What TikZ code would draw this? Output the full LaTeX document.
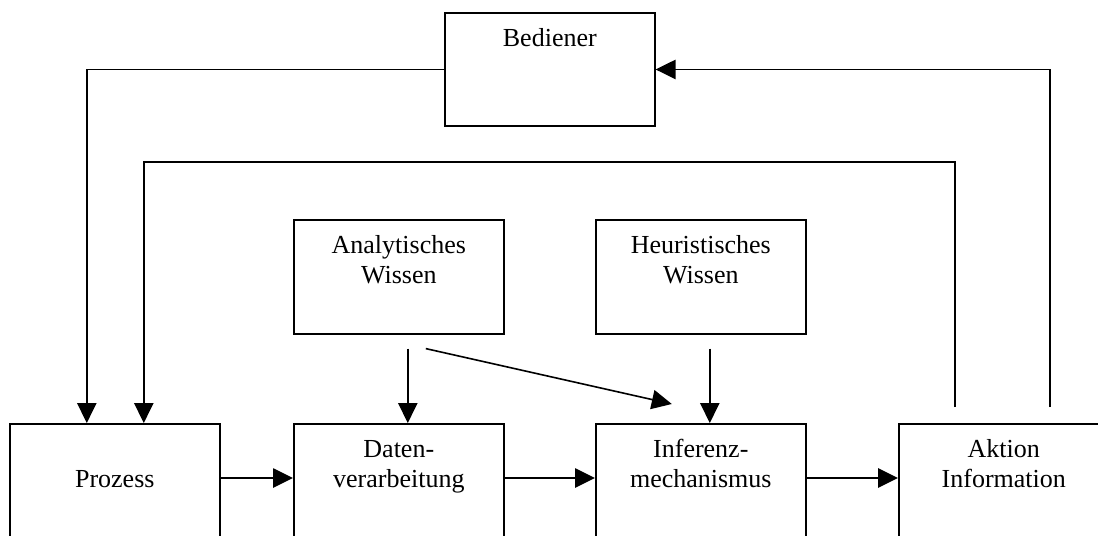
\documentclass[tikz,border=0pt]{standalone}
\usepackage{fontspec}
\setmainfont{Liberation Serif}
\usetikzlibrary{arrows.meta}

\tikzset{
  block/.style={draw, line width=1.2pt, anchor=north west, inner sep=0pt,
    minimum width=157.5pt, align=center,
    font=\fontsize{19.5}{22.5}\selectfont,
    text height=25.5pt, text depth=60pt},
  twoline/.style={text height=48pt, text depth=37.5pt},
  flow/.style={line width=1.2pt, -{Triangle[length=15pt,width=14.5pt]}},
}

\begin{document}
\begin{tikzpicture}[x=0.75pt,y=-0.75pt]
    \useasboundingbox (0,0) rectangle (1098,535);
    \clip (0,0) rectangle (1098,535);
    \node[block, text height=25pt] (bed) at (444,12) {Bediener};
    \node[block, twoline] (ana) at (293,219) {Analytisches\\Wissen};
    \node[block, twoline] (heu) at (595,219) {Heuristisches\\Wissen};
    \node[block, text height=48pt, text depth=100pt] (proz) at (9,423) {Prozess};
    \node[block, twoline, text depth=100pt] (dat) at (293,423) {Daten-\\verarbeitung};
    \node[block, twoline, text depth=100pt] (inf) at (595,423) {Inferenz-\\mechanismus};
    \node[block, twoline, text depth=100pt] (akt) at (898,423) {Aktion\\Information};
    \coordinate (akt1) at ([xshift=-36.75pt,yshift=12pt]akt.north);
    \coordinate (akt2) at ([xshift=34.5pt,yshift=12pt]akt.north);
    \coordinate (tip) at ([xshift=-21.75pt,yshift=14.25pt]inf.north);
    \begin{scope}[flow]
    \draw (bed.west) -| ([xshift=-21pt]proz.north);
    \draw (akt2) |- (bed.east);
    \draw (akt1) -- ++(0,-245) -| ([xshift=21.75pt]proz.north);
    \draw ([xshift=6.75pt,yshift=-10.5pt]ana.south) -- ([xshift=6.75pt]dat.north);
    \draw ([xshift=20.25pt,yshift=-10.5pt]ana.south) -- (tip);
    \draw ([xshift=6.75pt,yshift=-10.5pt]heu.south) -- ([xshift=6.75pt]inf.north);
    \draw ([yshift=-41.25pt]proz.north east) -- ([yshift=-41.25pt]dat.north west);
    \draw ([yshift=-41.25pt]dat.north east) -- ([yshift=-41.25pt]inf.north west);
    \draw ([yshift=-41.25pt]inf.north east) -- ([yshift=-41.25pt]akt.north west);
    \end{scope}
\end{tikzpicture}
\end{document}
